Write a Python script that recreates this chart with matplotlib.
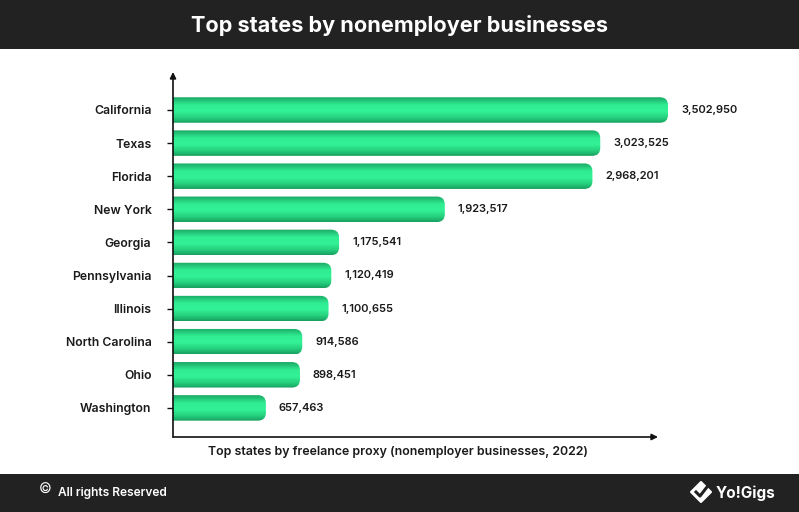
import matplotlib.pyplot as plt
from matplotlib.patches import FancyBboxPatch, Rectangle, Polygon
from matplotlib.colors import LinearSegmentedColormap
from matplotlib.lines import Line2D
import numpy as np

plt.rcParams['font.family'] = ['Inter', 'DejaVu Sans']

# data
states = ["California", "Texas", "Florida", "New York", "Georgia",
          "Pennsylvania", "Illinois", "North Carolina", "Ohio", "Washington"]
businesses = [3502950, 3023525, 2968201, 1923517, 1175541,
              1120419, 1100655, 914586, 898451, 657463]

title = "Top states by nonemployer businesses"
xlabel = "Top states by freelance proxy (nonemployer businesses, 2022)"

W, H = 799, 512
DARK = "#222222"

fig = plt.figure(figsize=(W / 100, H / 100), dpi=100)


def fx(x):
    return x / W


def fy(y):
    return 1 - y / H


# header / footer bands
fig.add_artist(Rectangle((0, fy(49)), 1, 49 / H, transform=fig.transFigure,
                         facecolor=DARK, edgecolor="none", zorder=0))
fig.add_artist(Rectangle((0, 0), 1, 38 / H, transform=fig.transFigure,
                         facecolor=DARK, edgecolor="none", zorder=0))
fig.text(0.5, fy(26), title, color="white", fontsize=15.6, fontweight="bold",
         ha="center", va="center")

# axes area (wider than the drawn x axis so the longest bar fits)
ax_l, ax_r, ax_t, ax_b = 173, 770, 72, 437
ax = fig.add_axes([fx(ax_l), fy(ax_b), (ax_r - ax_l) / W, (ax_b - ax_t) / H])
ax_w_px = ax_r - ax_l
ax_h_px = ax_b - ax_t

max_px = 495
xmax = max(businesses) * ax_w_px / max_px
pitch = 33.1
y0 = (ax_b - 110) / pitch
y1 = (ax_t - 110) / pitch
ax.set_xlim(0, xmax)
ax.set_ylim(y0, y1)

xu = xmax / ax_w_px          # x data units per pixel
yu = (y0 - y1) / ax_h_px     # y data units per pixel

cmap = LinearSegmentedColormap.from_list(
    "bar", [(0, "#1aa864"), (0.3, "#30ec92"), (0.55, "#33f296"),
            (0.8, "#26d07d"), (1, "#18a060")])
grad = np.linspace(0, 1, 64).reshape(-1, 1)

h = 0.77
r_px = 8
for i, v in enumerate(businesses):
    r = r_px * xu
    patch = FancyBboxPatch((-r * 2, i - h / 2), v + r * 2, h,
                           boxstyle=f"round,pad=0,rounding_size={r}",
                           mutation_aspect=yu / xu,
                           facecolor="none", edgecolor="none")
    ax.add_patch(patch)
    im = ax.imshow(grad, cmap=cmap, aspect="auto", interpolation="bilinear",
                   extent=(0, v, i + h / 2, i - h / 2), zorder=2)
    im.set_clip_path(patch)
    ax.text(v + 13 * xu, i, f"{v:,}", fontsize=8, fontweight="semibold",
            color="#1a1a1a", va="center", ha="left")

ax.set_xlim(0, xmax)
ax.set_ylim(y0, y1)

ax.set_yticks(range(len(states)))
ax.set_yticklabels(states, fontsize=8.8, fontweight="semibold", color="#1a1a1a")
ax.tick_params(axis="y", length=4.5, width=1, pad=11, color="#111111")
ax.set_xticks([])
for s in ax.spines.values():
    s.set_visible(False)

# axis lines with arrow heads
x_end = (658 - ax_l) / ax_w_px
ax.annotate("", xy=(0, 1), xytext=(0, 0), xycoords="axes fraction",
            arrowprops=dict(arrowstyle="-|>", color="#111111", lw=1.2,
                            mutation_scale=9, shrinkA=0, shrinkB=0))
ax.annotate("", xy=(x_end, 0), xytext=(0, 0), xycoords="axes fraction",
            arrowprops=dict(arrowstyle="-|>", color="#111111", lw=1.2,
                            mutation_scale=9, shrinkA=0, shrinkB=0))

fig.text(fx(398), fy(452), xlabel, fontsize=8.9, fontweight="semibold",
         color="#1a1a1a", ha="center", va="center")

# footer texts
fig.text(fx(45), fy(490), "©", fontsize=10, color="white",
         ha="center", va="center")
fig.text(fx(58), fy(493), "All rights Reserved", fontsize=8.6,
         fontweight="semibold", color="white", ha="left", va="center")

cx, cy, s = 701, 492, 10
fig.add_artist(Polygon([(fx(cx), fy(cy - s)), (fx(cx + s), fy(cy)),
                        (fx(cx), fy(cy + s)), (fx(cx - s), fy(cy))],
                       closed=True, transform=fig.transFigure,
                       facecolor="white", edgecolor="white", lw=1.5,
                       joinstyle="round"))
fig.add_artist(Line2D([fx(cx - 5), fx(cx - 1), fx(cx + 6)],
                      [fy(cy), fy(cy + 4), fy(cy - 5)],
                      transform=fig.transFigure, color=DARK, lw=2.2))
fig.text(fx(716), fy(493), "Yo!Gigs", fontsize=11, fontweight="bold",
         color="white", ha="left", va="center")

fig.savefig("out.png", dpi=100)
